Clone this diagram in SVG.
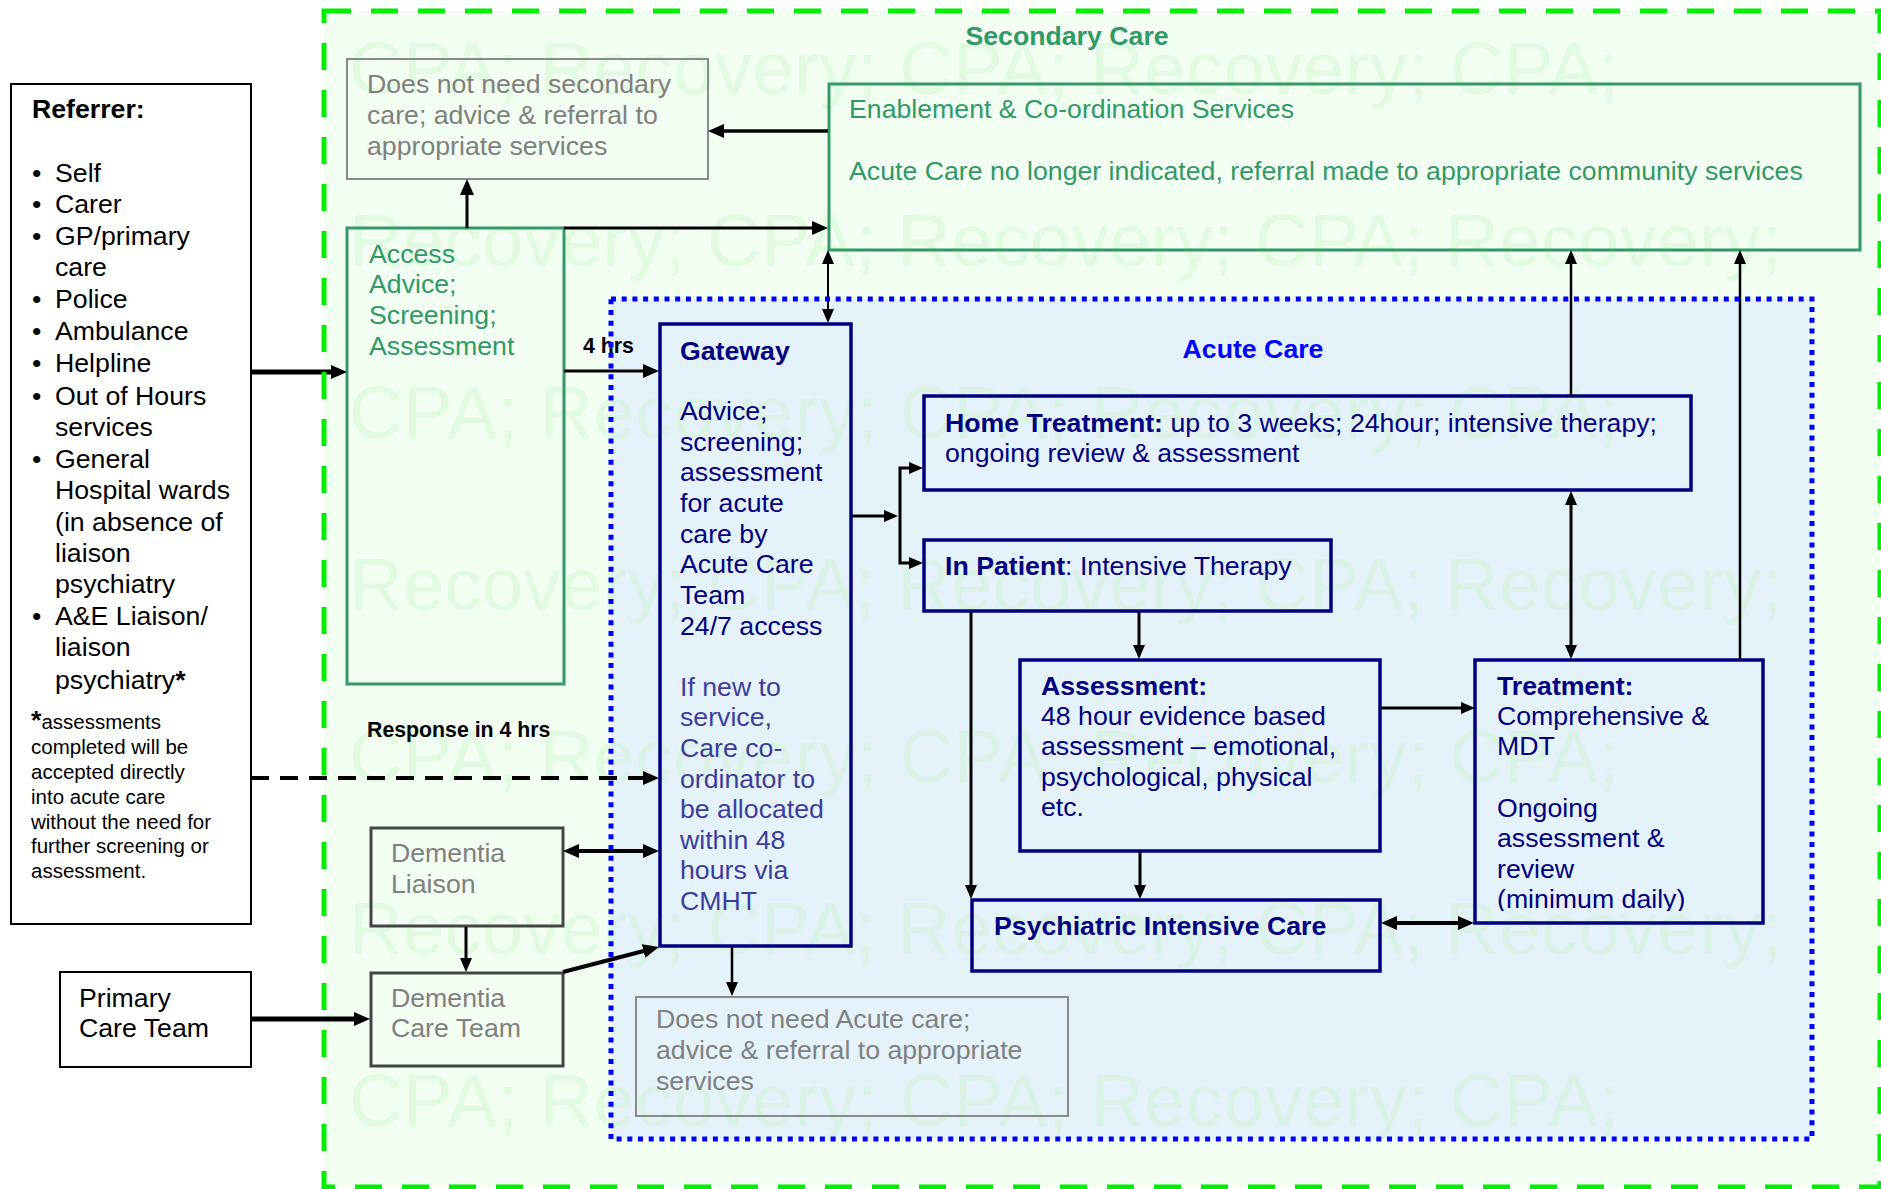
<svg xmlns="http://www.w3.org/2000/svg" width="1881" height="1189" viewBox="0 0 1881 1189">
<defs>
<style>
.t{font-family:"Liberation Sans",Arial,sans-serif;font-size:26.7px}
.b{font-weight:bold}
.sm{font-size:21.3px}
.fn{font-size:20.5px}
.grn{fill:#339966}
.nav{fill:#000080}
.gry{fill:#808080}
.sl{fill:#3d3d9e}
.blk{fill:#000}
.blu{fill:#0000ff}
.wm{font-family:"Liberation Sans",Arial,sans-serif;font-size:74px;fill:#ccf5cc;fill-opacity:0.42}
.bg{fill:none;stroke:#339966;stroke-width:3}
.bn{fill:none;stroke:#000080;stroke-width:3.5}
.bk{fill:#fff;stroke:#000;stroke-width:2}
.bgr{fill:none;stroke:#8a8a8a;stroke-width:2}
.bdg{fill:none;stroke:#444;stroke-width:3}
.c{fill:none;stroke:#000}
</style>
<marker id="ah" markerUnits="userSpaceOnUse" viewBox="0 0 16 14" markerWidth="16" markerHeight="14" refX="8" refY="7" orient="auto-start-reverse"><path d="M0,0 L16,7 L0,14 z" fill="#000"/></marker>
<marker id="as" markerUnits="userSpaceOnUse" viewBox="0 0 14 12" markerWidth="14" markerHeight="12" refX="7" refY="6" orient="auto-start-reverse"><path d="M0,0 L14,6 L0,12 z" fill="#000"/></marker>
<clipPath id="trclip"><rect x="1476" y="660" width="287" height="251"/></clipPath>
</defs>

<rect x="0" y="0" width="1881" height="1189" fill="#fff"/>
<g id="secondary-care-bg"><rect x="324" y="11" width="1556" height="1176" fill="#f2fef2"/></g>
<g id="acute-care-bg"><rect x="611" y="299" width="1201" height="840" fill="#e6f2fa"/></g>

<g id="watermark" class="wm">
<text x="349" y="94" textLength="1270">CPA; Recovery; CPA; Recovery; CPA;</text>
<text x="349" y="266" textLength="1433">Recovery; CPA; Recovery; CPA; Recovery;</text>
<text x="349" y="438" textLength="1270">CPA; Recovery; CPA; Recovery; CPA;</text>
<text x="349" y="610" textLength="1433">Recovery; CPA; Recovery; CPA; Recovery;</text>
<text x="349" y="782" textLength="1270">CPA; Recovery; CPA; Recovery; CPA;</text>
<text x="349" y="954" textLength="1433">Recovery; CPA; Recovery; CPA; Recovery;</text>
<text x="349" y="1126" textLength="1270">CPA; Recovery; CPA; Recovery; CPA;</text>
</g>

<g id="referrer">
<rect class="bk" x="11" y="84" width="240" height="840"/>
<text class="t b blk" x="32" y="118">Referrer:</text>
<g class="t blk">
<text x="32" y="182">•</text><text x="55" y="182">Self</text>
<text x="32" y="213">•</text><text x="55" y="213">Carer</text>
<text x="32" y="245">•</text><text x="55" y="245">GP/primary</text>
<text x="55" y="276">care</text>
<text x="32" y="308">•</text><text x="55" y="308">Police</text>
<text x="32" y="340">•</text><text x="55" y="340">Ambulance</text>
<text x="32" y="372">•</text><text x="55" y="372">Helpline</text>
<text x="32" y="405">•</text><text x="55" y="405">Out of Hours</text>
<text x="55" y="436">services</text>
<text x="32" y="468">•</text><text x="55" y="468">General</text>
<text x="55" y="499">Hospital wards</text>
<text x="55" y="531">(in absence of</text>
<text x="55" y="562">liaison</text>
<text x="55" y="593">psychiatry</text>
<text x="32" y="625">•</text><text x="55" y="625">A&amp;E Liaison/</text>
<text x="55" y="656">liaison</text>
<text x="55" y="689">psychiatry<tspan class="b">*</tspan></text>
</g>
<g class="t fn blk">
<text x="31" y="729"><tspan class="b" style="font-size:26.7px">*</tspan>assessments</text>
<text x="31" y="754">completed will be</text>
<text x="31" y="779">accepted directly</text>
<text x="31" y="804">into acute care</text>
<text x="31" y="829">without the need for</text>
<text x="31" y="853">further screening or</text>
<text x="31" y="878">assessment.</text>
</g>
</g>

<g id="primary-care-team">
<rect class="bk" x="60" y="972" width="191" height="95"/>
<text class="t blk" x="79" y="1007">Primary</text>
<text class="t blk" x="79" y="1037">Care Team</text>
</g>

<g id="no-secondary">
<rect class="bgr" x="347" y="59" width="361" height="120"/>
<g class="t gry">
<text x="367" y="93">Does not need secondary</text>
<text x="367" y="124">care; advice &amp; referral to</text>
<text x="367" y="155">appropriate services</text>
</g>
</g>

<g id="access">
<rect class="bg" x="347" y="228" width="217" height="456"/>
<g class="t grn">
<text x="369" y="263">Access</text>
<text x="369" y="293">Advice;</text>
<text x="369" y="324">Screening;</text>
<text x="369" y="355">Assessment</text>
</g>
</g>

<g id="enablement">
<rect class="bg" x="829" y="84" width="1031" height="166"/>
<text class="t grn" x="849" y="118">Enablement &amp; Co-ordination Services</text>
<text class="t grn" x="849" y="180">Acute Care no longer indicated, referral made to appropriate community services</text>
</g>

<g id="labels">
<text class="t b grn" x="1067" y="45" text-anchor="middle">Secondary Care</text>
<text class="t b blu" x="1253" y="358" text-anchor="middle">Acute Care</text>
<text class="t sm b blk" x="583" y="353">4 hrs</text>
<text class="t sm b blk" x="367" y="737">Response in 4 hrs</text>
</g>

<g id="gateway">
<rect class="bn" x="660" y="324" width="191" height="622"/>
<text class="t b nav" x="680" y="360">Gateway</text>
<g class="t nav">
<text x="680" y="420">Advice;</text>
<text x="680" y="451">screening;</text>
<text x="680" y="481">assessment</text>
<text x="680" y="512">for acute</text>
<text x="680" y="543">care by</text>
<text x="680" y="573">Acute Care</text>
<text x="680" y="604">Team</text>
<text x="680" y="635">24/7 access</text>
</g>
<g class="t sl">
<text x="680" y="696">If new to</text>
<text x="680" y="726">service,</text>
<text x="680" y="757">Care co-</text>
<text x="680" y="788">ordinator to</text>
<text x="680" y="818">be allocated</text>
<text x="680" y="849">within 48</text>
<text x="680" y="879">hours via</text>
<text x="680" y="910">CMHT</text>
</g>
</g>

<g id="home-treatment">
<rect class="bn" x="924" y="396" width="767" height="94"/>
<text class="t nav" x="945" y="432"><tspan class="b">Home Treatment:</tspan> up to 3 weeks; 24hour; intensive therapy;</text>
<text class="t nav" x="945" y="462">ongoing review &amp; assessment</text>
</g>

<g id="in-patient">
<rect class="bn" x="924" y="540" width="407" height="71"/>
<text class="t nav" x="945" y="575"><tspan class="b">In Patient</tspan>: Intensive Therapy</text>
</g>

<g id="assessment">
<rect class="bn" x="1020" y="660" width="360" height="191"/>
<g class="t nav">
<text class="b" x="1041" y="695">Assessment:</text>
<text x="1041" y="725">48 hour evidence based</text>
<text x="1041" y="755">assessment – emotional,</text>
<text x="1041" y="786">psychological, physical</text>
<text x="1041" y="816">etc.</text>
</g>
</g>

<g id="treatment">
<rect class="bn" x="1475" y="660" width="288" height="263"/>
<g class="t nav" clip-path="url(#trclip)">
<text class="b" x="1497" y="695">Treatment:</text>
<text x="1497" y="725">Comprehensive &amp;</text>
<text x="1497" y="755">MDT</text>
<text x="1497" y="817">Ongoing</text>
<text x="1497" y="847">assessment &amp;</text>
<text x="1497" y="878">review</text>
<text x="1497" y="908">(minimum daily)</text>
</g>
</g>

<g id="pic">
<rect class="bn" x="972" y="900" width="408" height="71"/>
<text class="t b nav" x="994" y="935">Psychiatric Intensive Care</text>
</g>

<g id="dementia-liaison">
<rect class="bdg" x="371" y="828" width="192" height="98"/>
<text class="t gry" x="391" y="862">Dementia</text>
<text class="t gry" x="391" y="893">Liaison</text>
</g>

<g id="dementia-care-team">
<rect class="bdg" x="371" y="973" width="192" height="93"/>
<text class="t gry" x="391" y="1007">Dementia</text>
<text class="t gry" x="391" y="1037">Care Team</text>
</g>

<g id="no-acute">
<rect class="bgr" x="636" y="997" width="432" height="119"/>
<g class="t gry">
<text x="656" y="1028">Does not need Acute care;</text>
<text x="656" y="1059">advice &amp; referral to appropriate</text>
<text x="656" y="1090">services</text>
</g>
</g>

<g id="connectors" class="c">
<line x1="251" y1="372" x2="339" y2="372" stroke-width="5" marker-end="url(#ah)"/>
<line x1="251" y1="1019" x2="362" y2="1019" stroke-width="5" marker-end="url(#ah)"/>
<line x1="251" y1="778" x2="651" y2="778" stroke-width="4" stroke-dasharray="18 11" marker-end="url(#ah)"/>
<line x1="564" y1="371" x2="651" y2="371" stroke-width="3" marker-end="url(#ah)"/>
<line x1="467" y1="228" x2="467" y2="187" stroke-width="3" marker-end="url(#ah)"/>
<line x1="828" y1="131" x2="716" y2="131" stroke-width="3.5" marker-end="url(#ah)"/>
<line x1="564" y1="228" x2="820" y2="228" stroke-width="3" marker-end="url(#ah)"/>
<line x1="828" y1="257" x2="828" y2="316" stroke-width="2" marker-start="url(#as)" marker-end="url(#as)"/>
<line x1="852" y1="516" x2="891" y2="516" stroke-width="3" marker-end="url(#as)"/>
<path d="M916,468 H900 V563 H916" stroke-width="3" marker-start="url(#as)" marker-end="url(#as)"/>
<line x1="1139" y1="612" x2="1139" y2="652" stroke-width="3" marker-end="url(#as)"/>
<line x1="971" y1="612" x2="971" y2="892" stroke-width="3" marker-end="url(#as)"/>
<line x1="1140" y1="852" x2="1140" y2="892" stroke-width="3" marker-end="url(#as)"/>
<line x1="1380" y1="708" x2="1468" y2="708" stroke-width="3" marker-end="url(#as)"/>
<line x1="1571" y1="498" x2="1571" y2="652" stroke-width="3" marker-start="url(#as)" marker-end="url(#as)"/>
<line x1="1571" y1="395" x2="1571" y2="257" stroke-width="2.5" marker-end="url(#as)"/>
<line x1="1740" y1="659" x2="1740" y2="257" stroke-width="2.5" marker-end="url(#as)"/>
<line x1="1389" y1="923" x2="1466" y2="923" stroke-width="4" marker-start="url(#ah)" marker-end="url(#ah)"/>
<line x1="571" y1="851" x2="651" y2="851" stroke-width="4" marker-start="url(#ah)" marker-end="url(#ah)"/>
<line x1="466" y1="927" x2="466" y2="965" stroke-width="3" marker-end="url(#as)"/>
<line x1="563" y1="972" x2="651.3" y2="949" stroke-width="4" marker-end="url(#ah)"/>
<line x1="732" y1="947" x2="732" y2="989" stroke-width="2.5" marker-end="url(#as)"/>
</g>

<g id="secondary-care-border"><rect x="324" y="11" width="1556" height="1176" fill="none" stroke="#00ee00" stroke-width="5" stroke-dasharray="27 20"/></g>
<g id="acute-care-border"><rect x="611" y="299" width="1201" height="840" fill="none" stroke="#0000ff" stroke-width="5" stroke-dasharray="5 5.7"/></g>
</svg>
